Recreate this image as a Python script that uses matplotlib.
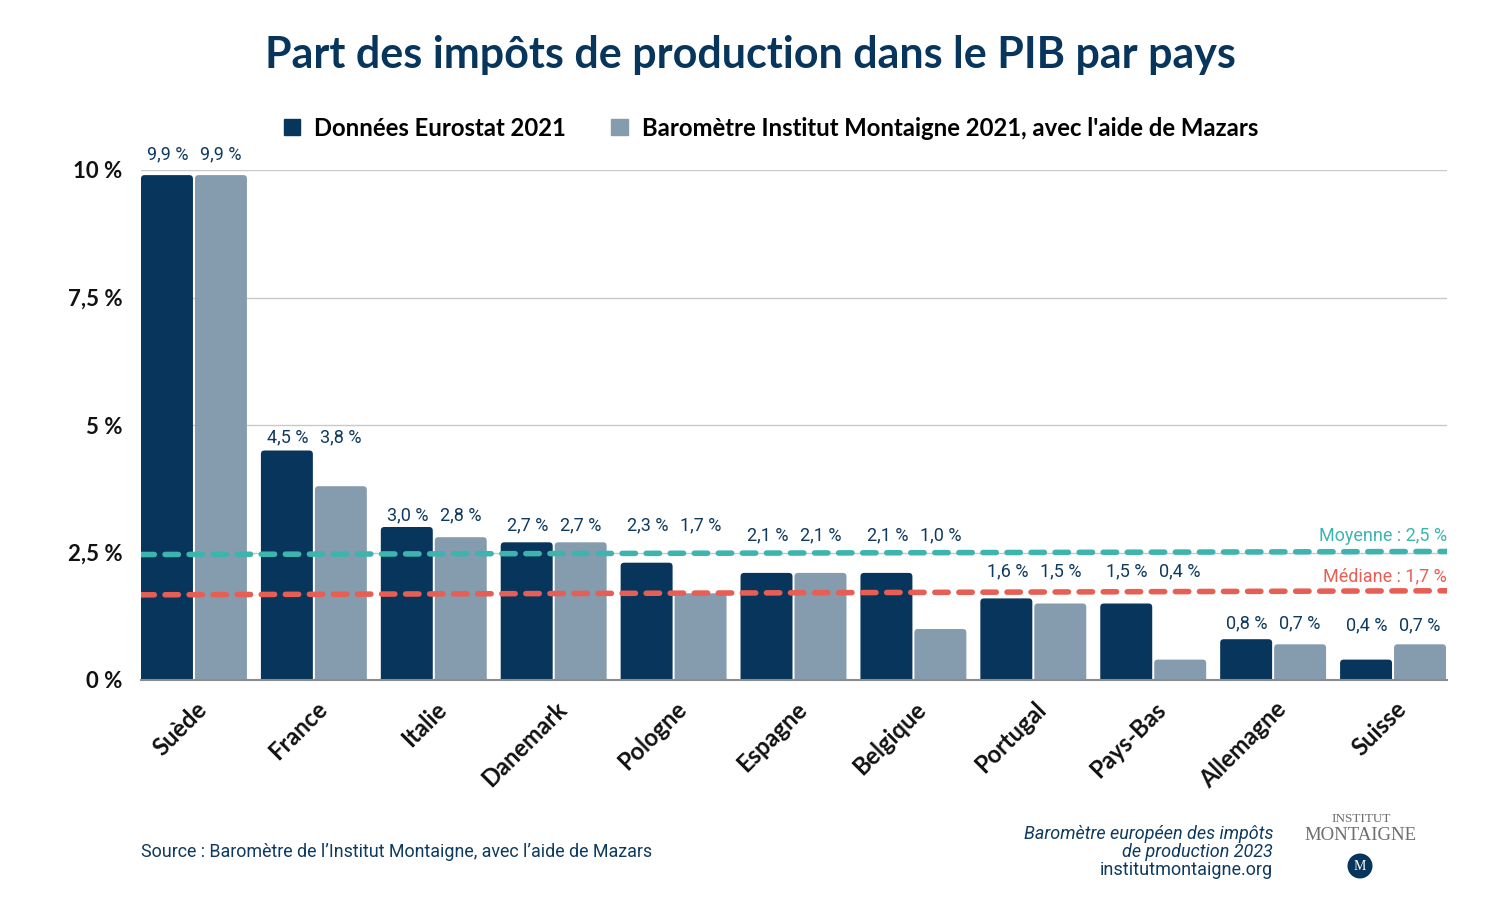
import numpy as np
import matplotlib
matplotlib.use("Agg")
import matplotlib.pyplot as plt
from matplotlib.patches import FancyBboxPatch, Patch, Ellipse
from matplotlib.transforms import ScaledTranslation

pays = ["Suède", "France", "Italie", "Danemark", "Pologne", "Espagne",
        "Belgique", "Portugal", "Pays-Bas", "Allemagne", "Suisse"]
eurostat = [9.9, 4.5, 3.0, 2.7, 2.3, 2.1, 2.1, 1.6, 1.5, 0.8, 0.4]
barometre = [9.9, 3.8, 2.8, 2.7, 1.7, 2.1, 1.0, 1.5, 0.4, 0.7, 0.7]
moyenne = [2.46, 2.52]
mediane = [1.67, 1.75]
yticks = [0, 2.5, 5, 7.5, 10]
yticklabels = ["0 %", "2,5 %", "5 %", "7,5 %", "10 %"]

DARK = "#07355c"
GREY = "#859bae"
TEAL = "#3db5ae"
RED = "#e75f54"
LABEL = "#0f3a60"

plt.rcParams["font.family"] = ["Lato", "DejaVu Sans"]

fig = plt.figure(figsize=(15, 9), dpi=100)
ax = fig.add_axes([141/1500, 220/900, 1306/1500, 510/900])

x = np.arange(len(pays))
w = 52/120
ax.set_xlim(-53/120, 10 + 54/120)
ax.set_ylim(0, 10)
aspect = 120/51

# bars are rebuilt with rounded tops
for vals, offset, col in [(eurostat, -27/120, DARK), (barometre, 27/120, GREY)]:
    bars = ax.bar(x + offset, vals, w, color=col, alpha=0)
    for b in bars:
        ax.add_patch(FancyBboxPatch((b.get_x(), -0.2), b.get_width(), b.get_height() + 0.2,
                                    boxstyle="round,pad=0,rounding_size=0.03",
                                    mutation_aspect=aspect, fc=col, ec="none", zorder=3))

# height of the value labels, one per country
label_y = [10.31, 4.76, 3.23, 3.04, 3.04, 2.84, 2.84, 2.14, 2.14, 1.12, 1.08]
for i in range(len(pays)):
    ax.text(i - 26/120, label_y[i], f"{eurostat[i]:.1f} %".replace(".", ","),
            ha="center", va="center", fontsize=13, color=LABEL, family="Roboto")
    ax.text(i + 27/120, label_y[i], f"{barometre[i]:.1f} %".replace(".", ","),
            ha="center", va="center", fontsize=13, color=LABEL, family="Roboto")

xl = ax.get_xlim()
ax.plot(xl, moyenne, color=TEAL, lw=4, dashes=(2.4, 1.93), dash_capstyle="round", zorder=4)
ax.plot(xl, mediane, color=RED, lw=4, dashes=(2.4, 1.93), dash_capstyle="round", zorder=4)
ax.text(xl[1], 2.82, "Moyenne : 2,5 %", ha="right", va="center", fontsize=13,
        color=TEAL, family="Roboto")
ax.text(xl[1], 2.04, "Médiane : 1,7 %", ha="right", va="center", fontsize=13,
        color=RED, family="Roboto")

ax.set_yticks(yticks)
ax.set_yticklabels(yticklabels, fontsize=16, color="#111111", fontweight="bold")
ax.grid(axis="y", color="#c9c9c9", lw=1)
ax.set_axisbelow(True)
ax.tick_params(axis="y", length=0, pad=13.5)
ax.tick_params(axis="x", length=0, pad=12.5)
ax.set_xticks(x)
ax.set_xticklabels(pays, rotation=45, ha="right", rotation_mode="anchor",
                   fontsize=17, fontweight="bold", color="#111111")
for lab in ax.get_xticklabels():
    lab.set_transform(lab.get_transform() + ScaledTranslation(0.01, 0, fig.dpi_scale_trans))
for s in ["top", "left", "right"]:
    ax.spines[s].set_visible(False)
ax.spines["bottom"].set_color("#8c8c8c")
ax.spines["bottom"].set_linewidth(1.5)
ax.spines["bottom"].set_zorder(5)

fig.text(750/1500, 1 - 55/900, "Part des impôts de production dans le PIB par pays",
         ha="center", va="center", fontsize=31, fontweight="bold", color=DARK)

handles = [Patch(color=DARK, label="Données Eurostat 2021"),
           Patch(color=GREY, label="Baromètre Institut Montaigne 2021, avec l'aide de Mazars")]
fig.legend(handles=handles, loc="center", bbox_to_anchor=(771/1500, 1 - 128/900), ncol=2,
           frameon=False, handlelength=0.68, handleheight=0.68, handletextpad=0.6, columnspacing=1.9,
           prop={"size": 17.2, "weight": "bold"})

fig.text(141/1500, 1 - 852/900, "Source : Baromètre de l’Institut Montaigne, avec l’aide de Mazars",
         ha="left", va="center", fontsize=12.9, color=LABEL, family="Roboto")
fig.text(1273/1500, 1 - 834/900, "Baromètre européen des impôts", ha="right", va="center",
         fontsize=13, style="italic", color=LABEL, family="Roboto")
fig.text(1273/1500, 1 - 852/900, "de production 2023", ha="right", va="center",
         fontsize=13, style="italic", color=LABEL, family="Roboto")
fig.text(1273/1500, 1 - 870/900, "institutmontaigne.org", ha="right", va="center",
         fontsize=13, color=LABEL, family="Roboto")

# logo
fig.text(1361/1500, 1 - 819/900, "INSTITUT", ha="center", va="center", fontsize=9.5,
         color="#6e6e6e", family="Liberation Serif")
fig.text(1361/1500, 1 - 835/900, "MONTAIGNE", ha="center", va="center", fontsize=13.5,
         color="#6e6e6e", family="Liberation Serif")
fig.add_artist(Ellipse((1360/1500, 1 - 866/900), 25/1500, 25/900, fc=DARK, ec="none",
                       transform=fig.transFigure))
fig.text(1360/1500, 1 - 866/900, "M", ha="center", va="center", fontsize=10,
         color="white", family="Liberation Serif")

plt.savefig("out.png", dpi=100)
plt.close()
